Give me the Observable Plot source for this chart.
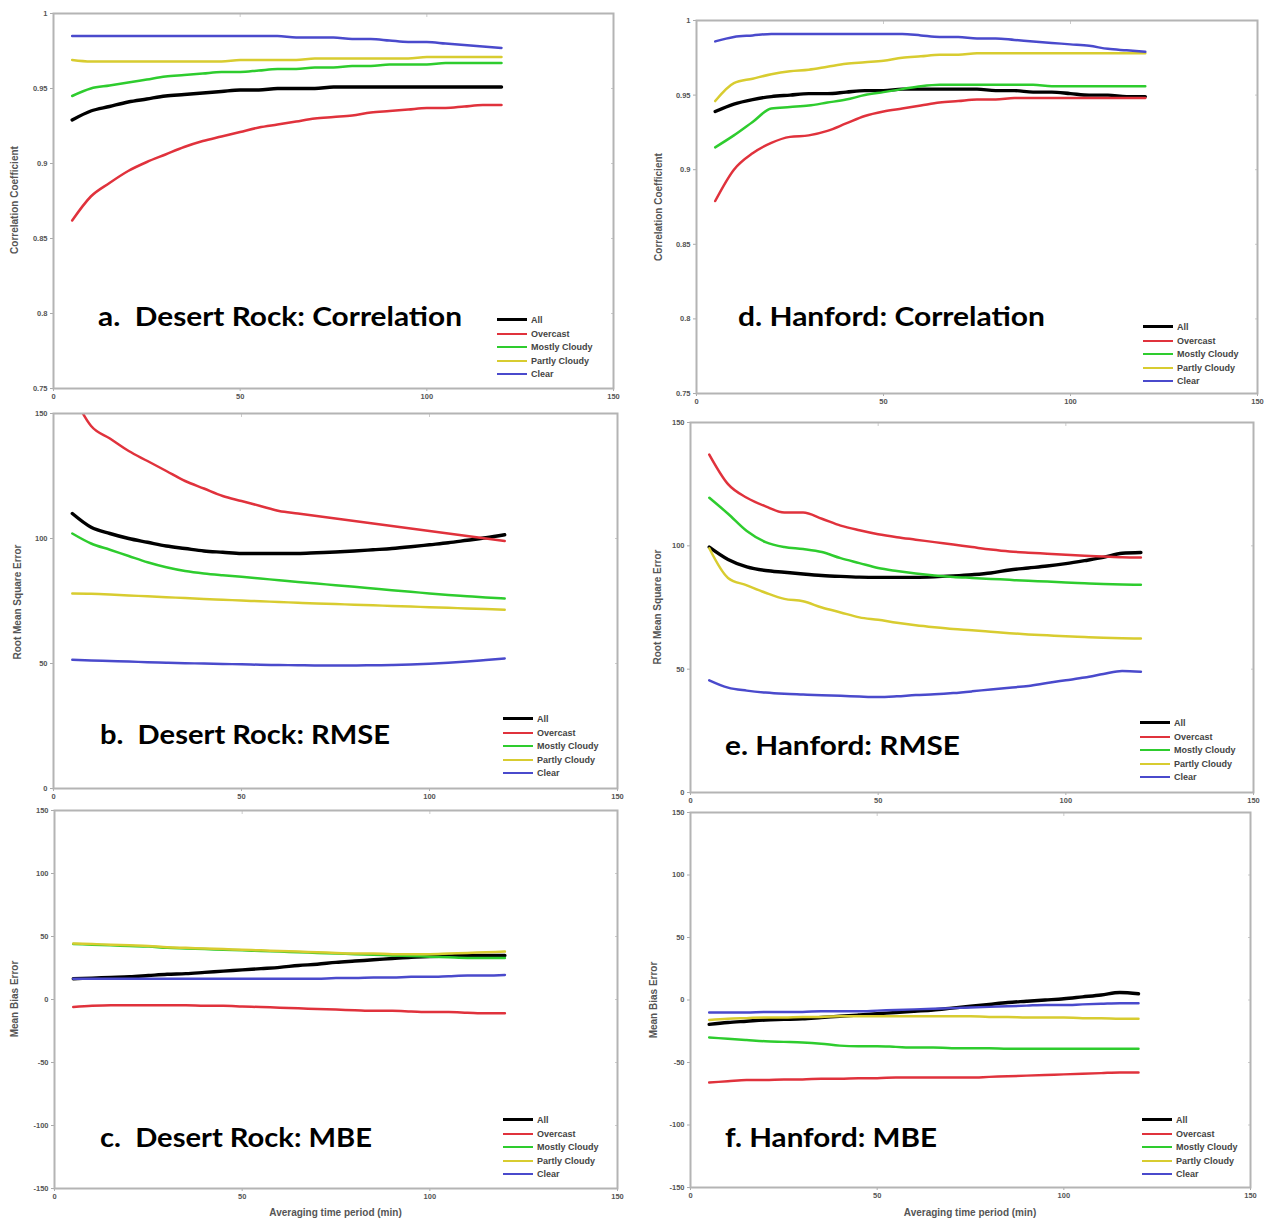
<!DOCTYPE html>
<html><head><meta charset="utf-8">
<script src="https://cdn.jsdelivr.net/npm/d3@7"></script>
<script src="https://cdn.jsdelivr.net/npm/@observablehq/plot@0.6"></script>
<style>
body{margin:0;background:#fff;}
#page{position:relative;width:1267px;height:1222px;overflow:hidden;background:#fff;font-family:"Liberation Sans",Arial,sans-serif;}
.panel{position:absolute;}
.title{position:absolute;font-family:Lato,"Open Sans",sans-serif;font-weight:700;font-size:27px;white-space:pre;color:#000;line-height:1;transform-origin:0 50%;}
.ylab{position:absolute;font-size:10px;font-weight:700;color:#555;white-space:nowrap;transform:translate(-50%,-50%) rotate(-90deg);}
.xlab{position:absolute;font-size:10px;font-weight:700;color:#555;white-space:nowrap;transform:translate(-50%,-50%);}
.legend{position:absolute;font-size:9px;font-weight:700;color:#444;}
.legrow{display:flex;align-items:center;height:13.6px;}
.sw{width:30px;height:0;border-top-style:solid;margin-right:4px;}
</style></head>
<body><div id="page"></div>
<script>
// ---------- data ----------
const minutes = [5,10,15,20,25,30,35,40,45,50,55,60,65,70,75,80,85,90,95,100,105,110,115,120];
const categories = ["All","Overcast","Mostly Cloudy","Partly Cloudy","Clear"];
const seriesColors = ["#000000","#e0323c","#2ecc2e","#d8cc30","#4a4acc"];

const xTicks = [0,50,100,150];
const corrTicks = [0.75,0.8,0.85,0.9,0.95,1];
const corrTickLabels = ["0.75","0.8","0.85","0.9","0.95","1"];
const rmseTicks = [0,50,100,150];
const mbeTicks = [-150,-100,-50,0,50,100,150];

// Desert Rock: Correlation
const drCorrAll      = [0.929,0.935,0.938,0.941,0.943,0.945,0.946,0.947,0.948,0.949,0.949,0.950,0.950,0.950,0.951,0.951,0.951,0.951,0.951,0.951,0.951,0.951,0.951,0.951];
const drCorrOvercast = [0.862,0.878,0.887,0.895,0.901,0.906,0.911,0.915,0.918,0.921,0.924,0.926,0.928,0.930,0.931,0.932,0.934,0.935,0.936,0.937,0.937,0.938,0.939,0.939];
const drCorrMostly   = [0.945,0.950,0.952,0.954,0.956,0.958,0.959,0.960,0.961,0.961,0.962,0.963,0.963,0.964,0.964,0.965,0.965,0.966,0.966,0.966,0.967,0.967,0.967,0.967];
const drCorrPartly   = [0.969,0.968,0.968,0.968,0.968,0.968,0.968,0.968,0.968,0.969,0.969,0.969,0.969,0.970,0.970,0.970,0.970,0.970,0.970,0.971,0.971,0.971,0.971,0.971];
const drCorrClear    = [0.985,0.985,0.985,0.985,0.985,0.985,0.985,0.985,0.985,0.985,0.985,0.985,0.984,0.984,0.984,0.983,0.983,0.982,0.981,0.981,0.980,0.979,0.978,0.977];

// Hanford: Correlation
const hfCorrAll      = [0.939,0.944,0.947,0.949,0.950,0.951,0.951,0.952,0.953,0.953,0.954,0.954,0.954,0.954,0.954,0.953,0.953,0.952,0.952,0.951,0.950,0.950,0.949,0.949];
const hfCorrOvercast = [0.879,0.900,0.911,0.918,0.922,0.923,0.926,0.931,0.936,0.939,0.941,0.943,0.945,0.946,0.947,0.947,0.948,0.948,0.948,0.948,0.948,0.948,0.948,0.948];
const hfCorrMostly   = [0.915,0.923,0.932,0.941,0.942,0.943,0.945,0.947,0.950,0.952,0.954,0.956,0.957,0.957,0.957,0.957,0.957,0.957,0.956,0.956,0.956,0.956,0.956,0.956];
const hfCorrPartly   = [0.946,0.958,0.961,0.964,0.966,0.967,0.969,0.971,0.972,0.973,0.975,0.976,0.977,0.977,0.978,0.978,0.978,0.978,0.978,0.978,0.978,0.978,0.978,0.978];
const hfCorrClear    = [0.986,0.989,0.990,0.991,0.991,0.991,0.991,0.991,0.991,0.991,0.991,0.990,0.989,0.989,0.988,0.988,0.987,0.986,0.985,0.984,0.983,0.981,0.980,0.979];

// Desert Rock: RMSE
const drRmseAll      = [110,104.5,102,100,98.5,97,96,95,94.5,94,94,94,94,94.3,94.6,95,95.5,96,96.7,97.5,98.3,99.3,100.3,101.5];
const drRmseOvercast = [158,145,140,135,131,127,123,120,117,115,113,111,110,109,108,107,106,105,104,103,102,101,100,99];
const drRmseMostly   = [102,98,95.5,93,90.5,88.5,87,86,85.3,84.7,84,83.3,82.6,82,81.3,80.7,80,79.3,78.7,78,77.4,76.9,76.4,76];
const drRmsePartly   = [78,77.9,77.6,77.2,76.9,76.5,76.2,75.8,75.5,75.2,74.9,74.6,74.3,74,73.8,73.5,73.3,73,72.8,72.5,72.3,72,71.8,71.5];
const drRmseClear    = [51.5,51.2,51,50.8,50.5,50.3,50.1,50,49.8,49.7,49.5,49.4,49.3,49.2,49.2,49.2,49.3,49.4,49.6,49.9,50.3,50.8,51.4,52];

// Hanford: RMSE
const hfRmseAll      = [99.5,94.5,91.5,90,89.3,88.6,88,87.6,87.3,87.2,87.2,87.2,87.4,87.8,88.3,89,90.2,91,91.8,92.8,94,95.3,97,97.3];
const hfRmseOvercast = [137,125,119.5,116,113.5,113.5,111,108.2,106.3,104.7,103.5,102.5,101.5,100.5,99.5,98.5,97.7,97.2,96.8,96.4,96,95.7,95.4,95.3];
const hfRmseMostly   = [119.5,113,106,101.5,99.5,98.7,97.5,95,93,91,89.8,88.8,88,87.4,87,86.6,86.2,85.8,85.5,85.1,84.8,84.5,84.3,84.2];
const hfRmsePartly   = [99,87,84,81,78.5,77.5,75,73,71,70,68.8,67.8,67,66.3,65.8,65.2,64.6,64.1,63.7,63.3,63,62.7,62.5,62.4];
const hfRmseClear    = [45.5,42.5,41.3,40.5,40,39.7,39.4,39.2,38.9,38.7,39,39.5,39.8,40.3,41,41.8,42.5,43.2,44.4,45.5,46.6,48,49.3,49];

// Desert Rock: MBE
const drMbeAll      = [16.5,17,17.5,18,19,20,20.5,21.5,22.5,23.5,24.5,25.5,27,28,29.5,30.5,31.5,32.5,33.5,34,34.5,35,35,35];
const drMbeOvercast = [-6,-5,-4.5,-4.5,-4.5,-4.5,-4.5,-5,-5,-5.5,-6,-6.5,-7,-7.5,-8,-8.5,-9,-9,-9.5,-10,-10,-10.5,-11,-11];
const drMbeMostly   = [44,43.5,43,42.5,42,41,40.5,40,39.5,39,38.5,38,37.5,37,36.5,36,35.5,35,34.5,34,33.5,33,33,33];
const drMbePartly   = [44.5,44,43.5,43,42.5,41.5,41,40.5,40,39.5,39,38.5,38,37.5,37,36.5,36.5,36,36,36,36.5,37,37.5,38];
const drMbeClear    = [16.5,16.5,16.5,16.5,16.5,16.5,16.5,16.5,16.5,16.5,16.5,16.5,16.5,16.5,17,17,17.5,17.5,18,18,18.5,19,19,19.5];

// Hanford: MBE
const hfMbeAll      = [-19.5,-18,-17,-16,-15.5,-15,-14,-13,-12,-11,-10,-9,-8,-6.5,-5,-3.5,-2,-1,0,1,2.5,4,6,5];
const hfMbeOvercast = [-66,-65,-64,-64,-63.5,-63.5,-63,-63,-62.5,-62.5,-62,-62,-62,-62,-62,-61.5,-61,-60.5,-60,-59.5,-59,-58.5,-58,-58];
const hfMbeMostly   = [-30,-31,-32,-33,-33.5,-34,-35,-36.5,-37,-37,-37.5,-38,-38,-38.5,-38.5,-38.5,-39,-39,-39,-39,-39,-39,-39,-39];
const hfMbePartly   = [-16,-15,-14.5,-14,-14,-13.5,-13.5,-13,-13,-13,-13,-13,-13,-13,-13,-13.5,-13.5,-14,-14,-14,-14.5,-14.5,-15,-15];
const hfMbeClear    = [-10,-10,-10,-9.5,-9.5,-9.5,-9,-9,-9,-8.5,-8,-7.5,-7,-6.5,-6,-5.5,-5,-4.5,-4,-4,-3.5,-3,-2.5,-2.5];

const titles = ["a.  Desert Rock: Correlation","d. Hanford: Correlation","b.  Desert Rock: RMSE","e. Hanford: RMSE","c.  Desert Rock: MBE","f. Hanford: MBE"];
const yLabels = ["Correlation Coefficient","Root Mean Square Error","Mean Bias Error"];
const xLabel = "Averaging time period (min)";

// ---------- layout (styling only) ----------
const panels = [
  {series:[drCorrAll,drCorrOvercast,drCorrMostly,drCorrPartly,drCorrClear], yDomain:[0.75,1], yTicks:corrTicks, yFmt:(d,i)=>corrTickLabels[i],
   frame:[53,13,613,388], title:titles[0], tPos:[98,315,364], ylab:yLabels[0], yl:[14,200], leg:[497,320], xlab:false},
  {series:[hfCorrAll,hfCorrOvercast,hfCorrMostly,hfCorrPartly,hfCorrClear], yDomain:[0.75,1], yTicks:corrTicks, yFmt:(d,i)=>corrTickLabels[i],
   frame:[696,20,1257,393], title:titles[1], tPos:[738,315,307], ylab:yLabels[0], yl:[658,207], leg:[1143,327], xlab:false},
  {series:[drRmseAll,drRmseOvercast,drRmseMostly,drRmsePartly,drRmseClear], yDomain:[0,150], yTicks:rmseTicks, yFmt:d=>String(d),
   frame:[53,413,617,788], title:titles[2], tPos:[100,733,290], ylab:yLabels[1], yl:[17,602], leg:[503,719], xlab:false},
  {series:[hfRmseAll,hfRmseOvercast,hfRmseMostly,hfRmsePartly,hfRmseClear], yDomain:[0,150], yTicks:rmseTicks, yFmt:d=>String(d),
   frame:[690,422,1253,792], title:titles[3], tPos:[725,744,235], ylab:yLabels[1], yl:[657,607], leg:[1140,723], xlab:false},
  {series:[drMbeAll,drMbeOvercast,drMbeMostly,drMbePartly,drMbeClear], yDomain:[-150,150], yTicks:mbeTicks, yFmt:d=>String(d),
   frame:[54,810,617,1188], title:titles[4], tPos:[100,1136,272], ylab:yLabels[2], yl:[14,999], leg:[503,1120], xlab:true},
  {series:[hfMbeAll,hfMbeOvercast,hfMbeMostly,hfMbePartly,hfMbeClear], yDomain:[-150,150], yTicks:mbeTicks, yFmt:d=>String(d),
   frame:[690,812,1250,1187], title:titles[5], tPos:[725,1136,212], ylab:yLabels[2], yl:[653,1000], leg:[1142,1120], xlab:true}
];

const page = document.getElementById("page");
const mL = 50, mR = 12, mT = 10, mB = 18;

panels.forEach(p => {
  const [x0,y0,x1,y1] = p.frame;
  const rows = [];
  p.series.forEach((vals, si) => vals.forEach((v, i) => rows.push({minute: minutes[i], value: v, category: categories[si]})));
  const ordered = categories.map(c => rows.filter(r => r.category === c));
  const lineMarks = ordered.map((rs, si) => Plot.line(rs, {x:"minute", y:"value", stroke:"category", strokeWidth: si===0 ? 3.4 : 2.5, curve:"monotone-x", clip:true}));
  const chart = Plot.plot({
    width: (x1-x0)+mL+mR, height: (y1-y0)+mT+mB,
    marginLeft: mL, marginRight: mR, marginTop: mT, marginBottom: mB,
    style: {fontFamily:"'Liberation Sans',Arial,sans-serif", fontSize:"7.5px", fontWeight:"bold", color:"#555", background:"transparent", overflow:"visible"},
    x: {domain:[0,150]},
    y: {domain:p.yDomain},
    color: {domain:categories, range:seriesColors},
    marks: [
      Plot.axisX({ticks:xTicks, tickSize:3, tickPadding:2, label:null, stroke:"#aaa"}),
      Plot.axisY({ticks:p.yTicks, tickSize:3, tickPadding:3, tickFormat:p.yFmt, label:null, stroke:"#aaa"}),
      Plot.axisX({ticks:xTicks, anchor:"top", tickSize:-3, label:null, stroke:"#ccc", text:null}),
      Plot.axisY({ticks:p.yTicks, anchor:"right", tickSize:-3, label:null, stroke:"#ccc", text:null}),
      ...lineMarks,
      Plot.frame({stroke:"#b4b4b4", strokeWidth:2})
    ]
  });
  chart.classList.add("panel");
  chart.style.left = (x0-mL)+"px";
  chart.style.top = (y0-mT)+"px";
  page.appendChild(chart);

  // title
  const t = document.createElement("div");
  t.className = "title"; t.textContent = p.title;
  page.appendChild(t);
  t.style.left = p.tPos[0]+"px";
  t.style.top = (p.tPos[1] - t.offsetHeight/2)+"px";
  const w = t.getBoundingClientRect().width;
  t.style.transform = `scaleX(${p.tPos[2]/w})`;

  // y label
  const yl = document.createElement("div");
  yl.className = "ylab"; yl.textContent = p.ylab;
  yl.style.left = p.yl[0]+"px"; yl.style.top = p.yl[1]+"px";
  page.appendChild(yl);

  // x label
  if (p.xlab) {
    const xl = document.createElement("div");
    xl.className = "xlab"; xl.textContent = xLabel;
    xl.style.left = ((x0+x1)/2)+"px"; xl.style.top = "1212px";
    page.appendChild(xl);
  }

  // legend
  const lg = document.createElement("div");
  lg.className = "legend";
  lg.style.left = p.leg[0]+"px"; lg.style.top = (p.leg[1]-6.8)+"px";
  categories.forEach((c, i) => {
    const r = document.createElement("div"); r.className = "legrow";
    const s = document.createElement("div"); s.className = "sw";
    s.style.borderTopColor = seriesColors[i];
    s.style.borderTopWidth = (i===0 ? 3 : 2.5)+"px";
    const l = document.createElement("span"); l.textContent = c;
    r.appendChild(s); r.appendChild(l); lg.appendChild(r);
  });
  page.appendChild(lg);
});
</script>
</body></html>
